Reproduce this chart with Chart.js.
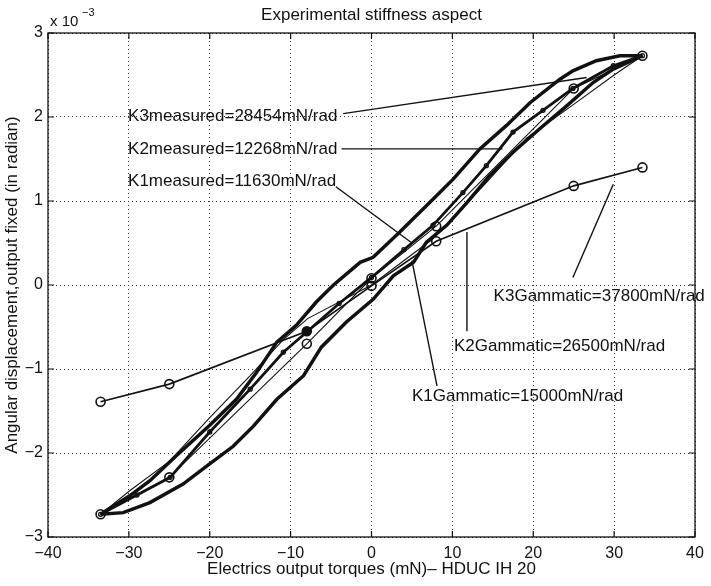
<!DOCTYPE html>
<html>
<head>
<meta charset="utf-8">
<title>Experimental stiffness aspect</title>
<script src="https://cdn.jsdelivr.net/npm/chart.js@4.4.1/dist/chart.umd.min.js"></script>
<style>
    html, body { margin: 0; padding: 0; background: #fff; }
    #wrap { width: 711px; height: 586px; }
</style>
</head>
<body>
<div id="wrap"><canvas id="stiffness" width="711" height="586"></canvas></div>
<script>
    "use strict";

    // Axis ticks (y values are in units of 1e-3 rad)
    var xTicks = [-40, -30, -20, -10, 0, 10, 20, 30, 40];
    var yTicks = [-3, -2, -1, 0, 1, 2, 3];

    // Outer hysteresis loop, upper branch
    var upperX = [-33.5, -29.9, -27.4, -24.1, -20.0, -16.7, -14.2, -11.7, -9.3, -6.8, -4.7, -1.4, 0.2, 3.5, 7.6, 10.1, 13.4, 16.7, 19.6, 23.3, 24.9, 27.8, 30.7, 33.5];
    var upperY = [-2.73, -2.51, -2.33, -2.03, -1.67, -1.36, -1.04, -0.68, -0.48, -0.20, 0.00, 0.27, 0.33, 0.63, 1.02, 1.26, 1.62, 1.90, 2.17, 2.45, 2.55, 2.67, 2.73, 2.73];

    // Outer hysteresis loop, lower branch
    var lowerX = [-33.5, -30.7, -27.4, -23.3, -20.3, -17.1, -14.6, -11.7, -8.4, -6.2, -3.1, 0.2, 2.7, 5.2, 6.8, 9.3, 11.8, 14.6, 17.5, 20.8, 24.1, 27.4, 29.9, 33.5];
    var lowerY = [-2.73, -2.71, -2.59, -2.37, -2.15, -1.92, -1.68, -1.36, -1.08, -0.74, -0.44, -0.17, 0.11, 0.27, 0.51, 0.71, 0.98, 1.30, 1.58, 1.86, 2.13, 2.41, 2.57, 2.73];

    // Mean measured curve (beaded)
    var meanX = [-33.5, -29.0, -24.9, -20.0, -15.0, -10.9, -7.9, -4.0, 0.0, 4.0, 7.6, 11.3, 14.2, 17.5, 21.2, 24.9, 29.9, 33.5];
    var meanY = [-2.73, -2.50, -2.29, -1.75, -1.24, -0.80, -0.55, -0.22, 0.09, 0.42, 0.71, 1.10, 1.42, 1.82, 2.08, 2.34, 2.61, 2.73];

    // Thin inner curve
    var innerX = [-33.5, -29.9, -25.0, -20.0, -15.0, -10.9, -7.9, 0.0, 7.6, 14.2, 19.2, 25.0, 30.0, 33.5];
    var innerY = [-2.73, -2.45, -2.10, -1.58, -1.08, -0.65, -0.40, 0.00, 0.55, 1.22, 1.75, 2.15, 2.50, 2.73];

    // K2 line with circles
    var k2X = [-33.5, -25.0, -8.0, 0.0, 8.0, 25.0, 33.5];
    var k2Y = [-2.73, -2.29, -0.70, 0.08, 0.70, 2.34, 2.73];

    // Gammatic line with circles
    var gamX = [-33.5, -25.0, -8.0, 0.0, 8.0, 25.0, 33.5];
    var gamY = [-1.39, -1.18, -0.55, -0.01, 0.52, 1.18, 1.40];

    // Annotation labels and their leader lines [x1, y1, x2, y2]
    var noteTexts = [
        "K3measured=28454mN/rad",
        "K2measured=12268mN/rad",
        "K1measured=11630mN/rad",
        "K3Gammatic=37800mN/rad",
        "K2Gammatic=26500mN/rad",
        "K1Gammatic=15000mN/rad"
    ];
    var noteLeaders = [
        [-3.5, 2.04, 26.6, 2.47],
        [-3.7, 1.62, 16.2, 1.62],
        [-4.4, 1.17, 5.0, 0.50],
        [29.9, 1.20, 24.9, 0.09],
        [11.8, 0.63, 11.8, -0.55],
        [5.0, 0.29, 8.1, -1.20]
    ];

    function pts(xs, ys) {
        return xs.map(function (x, i) { return { x: x, y: ys[i] }; });
    }

    var FONT = '"Liberation Sans", Arial, sans-serif';
    var INK = '#111';
    Chart.defaults.font.family = FONT;
    Chart.defaults.color = INK;

    var datasets = [
        { data: pts(upperX, upperY), borderWidth: 3.5, pointRadius: 0 },
        { data: pts(lowerX, lowerY), borderWidth: 3.5, pointRadius: 0 },
        { data: pts(meanX, meanY), borderWidth: 2.8, pointRadius: 2, pointBorderWidth: 1.3 },
        { data: pts(innerX, innerY), borderWidth: 1.1, pointRadius: 0 },
        { data: pts(k2X, k2Y), borderWidth: 1.1, pointRadius: 4.5, pointBorderWidth: 1.6 },
        {
            data: pts(gamX, gamY), borderWidth: 1.6, pointRadius: 4.5, pointBorderWidth: 1.6,
            pointBackgroundColor: function (c) { return c.dataIndex === 2 ? INK : 'rgba(255,255,255,0)'; }
        }
    ];
    noteLeaders.forEach(function (l) {
        datasets.push({ data: [{ x: l[0], y: l[1] }, { x: l[2], y: l[3] }], borderWidth: 1.4, pointRadius: 0 });
    });
    datasets.forEach(function (d) {
        d.showLine = true;
        d.borderColor = INK;
        d.pointBorderColor = INK;
        if (!d.pointBackgroundColor) d.pointBackgroundColor = 'rgba(255,255,255,0)';
        d.tension = 0;
        d.clip = false;
    });

    function minusSign(v) {
        return v < 0 ? '\u2212' + Math.abs(v) : String(v);
    }

    // Box, inward ticks and all text in MATLAB style
    var matlabPlot = {
        id: 'matlabPlot',
        afterDraw: function (chart) {
            var ctx = chart.ctx;
            var a = chart.chartArea;
            var xs = chart.scales.x, ys = chart.scales.y;
            ctx.save();
            ctx.strokeStyle = INK;
            ctx.lineWidth = 1.3;
            ctx.strokeRect(a.left, a.top, a.right - a.left, a.bottom - a.top);

            ctx.lineWidth = 1.2;
            ctx.beginPath();
            xTicks.forEach(function (t) {
                var px = xs.getPixelForValue(t);
                ctx.moveTo(px, a.bottom); ctx.lineTo(px, a.bottom - 6);
                ctx.moveTo(px, a.top); ctx.lineTo(px, a.top + 6);
            });
            yTicks.forEach(function (t) {
                var py = ys.getPixelForValue(t);
                ctx.moveTo(a.left, py); ctx.lineTo(a.left + 6, py);
                ctx.moveTo(a.right, py); ctx.lineTo(a.right - 6, py);
            });
            ctx.stroke();

            ctx.fillStyle = INK;
            ctx.textBaseline = 'middle';
            ctx.textAlign = 'center';
            ctx.font = '17px ' + FONT;
            ctx.fillText('Experimental stiffness aspect', (a.left + a.right) / 2, 15);
            ctx.fillText('Electrics output torques (mN)\u2013 HDUC IH 20', (a.left + a.right) / 2, 569);

            ctx.save();
            ctx.translate(12, (a.top + a.bottom) / 2);
            ctx.rotate(-Math.PI / 2);
            ctx.fillText('Angular displacement,output fixed (in radian)', 0, 0);
            ctx.restore();

            ctx.textAlign = 'left';
            ctx.font = '15px ' + FONT;
            ctx.fillText('x 10', a.left + 2, 22);
            ctx.font = '11px ' + FONT;
            ctx.fillText('\u22123', a.left + 34, 13);

            ctx.font = '17px ' + FONT;
            var anchors = [[-30.1, 2.01], [-30.1, 1.62], [-30.1, 1.24], [15.1, -0.13], [10.2, -0.73], [5.0, -1.33]];
            noteTexts.forEach(function (txt, i) {
                ctx.fillText(txt, xs.getPixelForValue(anchors[i][0]), ys.getPixelForValue(anchors[i][1]));
            });
            ctx.restore();
        }
    };

    var chart = new Chart(document.getElementById('stiffness').getContext('2d'), {
        type: 'scatter',
        data: { datasets: datasets },
        options: {
            responsive: false,
            animation: false,
            devicePixelRatio: 1,
            layout: { padding: { top: 33, right: 16, left: 0, bottom: 0 } },
            plugins: { legend: { display: false }, tooltip: { enabled: false } },
            scales: {
                x: {
                    type: 'linear', min: -40, max: 40,
                    afterBuildTicks: function (s) { s.ticks = xTicks.map(function (v) { return { value: v }; }); },
                    afterFit: function (s) { s.height = 49; },
                    grid: { color: '#333', lineWidth: 1, drawTicks: false },
                    border: { display: false, dash: [1, 3] },
                    ticks: { padding: 7, font: { size: 16 }, color: INK, maxRotation: 0, callback: minusSign }
                },
                y: {
                    type: 'linear', min: -3, max: 3,
                    afterBuildTicks: function (s) { s.ticks = yTicks.map(function (v) { return { value: v }; }); },
                    afterFit: function (s) { s.width = 48; },
                    grid: { color: '#333', lineWidth: 1, drawTicks: false },
                    border: { display: false, dash: [1, 3] },
                    ticks: { padding: 5, font: { size: 16 }, color: INK, callback: minusSign }
                }
            }
        },
        plugins: [matlabPlot]
    });
</script>
</body>
</html>
